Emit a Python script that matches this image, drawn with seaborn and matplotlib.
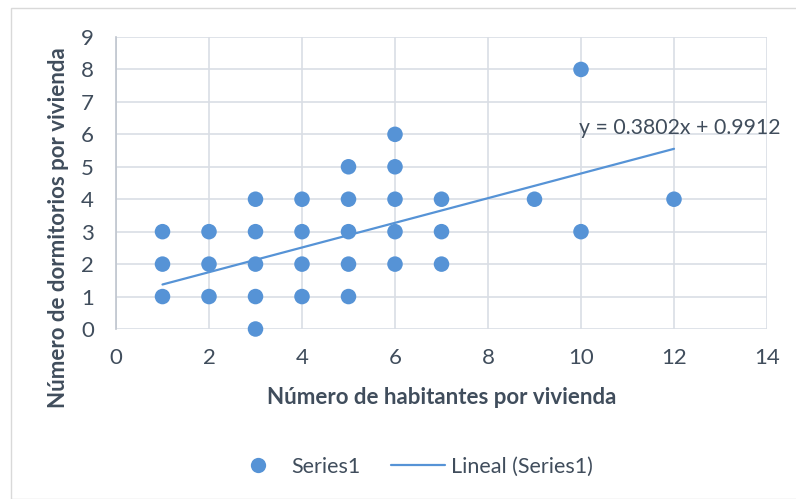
import matplotlib
matplotlib.use("Agg")
import matplotlib.pyplot as plt
import seaborn as sns
import pandas as pd
from matplotlib.lines import Line2D
from matplotlib.patches import Rectangle

# Data
habitantes = [1, 1, 1, 2, 2, 2, 3, 3, 3, 3, 3, 4, 4, 4, 4, 5, 5, 5, 5, 5,
              6, 6, 6, 6, 6, 7, 7, 7, 9, 10, 10, 12]
dormitorios = [1, 2, 3, 1, 2, 3, 0, 1, 2, 3, 4, 1, 2, 3, 4, 1, 2, 3, 4, 5,
               2, 3, 4, 5, 6, 2, 3, 4, 4, 3, 8, 4]
trend_slope = 0.3802
trend_intercept = 0.9912
x_ticks = [0, 2, 4, 6, 8, 10, 12, 14]
y_ticks = [0, 1, 2, 3, 4, 5, 6, 7, 8, 9]

df = pd.DataFrame({"x": habitantes, "y": dormitorios})
tx = [min(habitantes), max(habitantes)]
trend = pd.DataFrame({"x": tx, "y": [trend_slope * v + trend_intercept for v in tx]})

sns.set_theme(style="white")
plt.rcParams["font.family"] = ["Lato", "DejaVu Sans"]

TEXT = "#404D5C"
GRID = "#D9DEE5"
BLUE = "#5693D6"

W, H = 796, 499
fig = plt.figure(figsize=(W / 100, H / 100), dpi=100)
fig.patches.append(Rectangle((10.5 / W, 0), 1, 1 - 8 / H, transform=fig.transFigure,
                             fill=False, edgecolor="#D9D9D9", linewidth=1.0))

L, R, T, B = 116, 767, 37, 329
ax = fig.add_axes([L / W, 1 - B / H, (R - L) / W, (B - T) / H])

sns.lineplot(data=trend, x="x", y="y", ax=ax, color=BLUE, linewidth=1.6, zorder=2)
sns.scatterplot(data=df, x="x", y="y", ax=ax, color=BLUE, s=125, edgecolor="none",
                linewidth=0, zorder=3, clip_on=False)

ax.set_xlim(0, 14)
ax.set_ylim(0, 9)
ax.set_xticks(x_ticks)
ax.set_yticks(y_ticks)
ax.grid(True, color=GRID, linewidth=1.2)
ax.set_axisbelow(True)
for s in ["top", "right", "bottom"]:
    ax.spines[s].set_visible(False)
ax.spines["left"].set_color("#BFC5CE")
ax.spines["left"].set_linewidth(1.2)
ax.tick_params(axis="both", length=0, labelsize=16, labelcolor=TEXT)
ax.tick_params(axis="y", pad=16)
ax.tick_params(axis="x", pad=14)
ax.set_xlabel("")
ax.set_ylabel("")

fig.text((L + R) / 2 / W, 1 - 398 / H, "Número de habitantes por vivienda",
         ha="center", va="center", fontsize=16, fontweight="bold", color=TEXT)
fig.text(59 / W, 1 - 228 / H, "Número de dormitorios por vivienda", rotation=90,
         ha="center", va="center", fontsize=16, fontweight="bold", color=TEXT)

fig.text(680 / W, 1 - 128 / H, "y = 0.3802x + 0.9912", ha="center", va="center",
         fontsize=15.3, color=TEXT)

handles = [
    Line2D([], [], linestyle="none", marker="o", markersize=11, color=BLUE,
           markeredgewidth=0),
    Line2D([], [], color=BLUE, linewidth=1.6),
]
fig.legend(handles, ["Series1", "Lineal (Series1)"], loc="center",
           bbox_to_anchor=(412 / W, 1 - 467 / H), ncol=2, frameon=False,
           fontsize=15.5, labelcolor=TEXT, handlelength=2.5, handletextpad=0.3,
           columnspacing=1.4)

fig.savefig("out.png", dpi=100)
